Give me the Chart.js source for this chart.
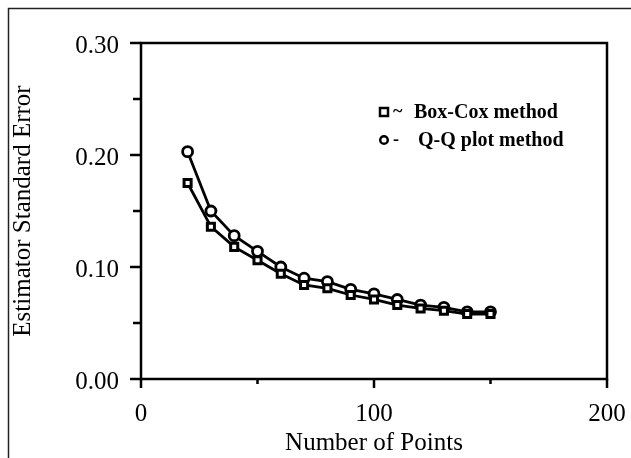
<!DOCTYPE html>
<html><head><meta charset="utf-8">
<script src="https://cdn.jsdelivr.net/npm/chart.js@4"></script>
<style>html,body{margin:0;padding:0;background:#fff;}#wrap{width:631px;height:458px;}</style>
</head><body><div id="wrap"><canvas id="c" width="631" height="458"></canvas></div>
<script>
const numberOfPoints = [20, 30, 40, 50, 60, 70, 80, 90, 100, 110, 120, 130, 140, 150];
const boxCoxError = [0.175, 0.136, 0.118, 0.106, 0.094, 0.084, 0.081, 0.075, 0.071, 0.066, 0.063, 0.061, 0.058, 0.058];
const qqPlotError = [0.203, 0.150, 0.128, 0.114, 0.100, 0.090, 0.087, 0.080, 0.076, 0.071, 0.066, 0.064, 0.060, 0.060];
const seriesNames = ['Box-Cox method', 'Q-Q plot method'];
const legendSymbols = ['~', '-'];
const xAxisTitle = 'Number of Points';
const yAxisTitle = 'Estimator Standard Error';

const SERIF = '"Liberation Serif", "Times New Roman", serif';
const INK = '#000';

const framePlugin = {
  id: 'frame',
  beforeDraw(chart) {
    const ctx = chart.ctx;
    ctx.save();
    ctx.fillStyle = '#fff';
    ctx.fillRect(0, 0, chart.width, chart.height);
    ctx.strokeStyle = '#222';
    ctx.lineWidth = 1.5;
    ctx.beginPath();
    ctx.moveTo(8.5, chart.height);
    ctx.lineTo(8.5, 8.5);
    ctx.lineTo(chart.width, 8.5);
    ctx.stroke();
    ctx.restore();
  },
  afterDatasetsDraw(chart) {
    const ctx = chart.ctx;
    const a = chart.chartArea;
    const xs = chart.scales.x, ys = chart.scales.y;
    ctx.save();
    ctx.strokeStyle = INK;
    ctx.lineWidth = 2.5;
    ctx.strokeRect(a.left, a.top, a.right - a.left, a.bottom - a.top);
    ctx.beginPath();
    xs.ticks.forEach(t => {
      const px = xs.getPixelForValue(t.value);
      const major = Math.round(t.value) % 100 === 0;
      ctx.moveTo(px, a.bottom);
      ctx.lineTo(px, a.bottom + (major ? 9 : 5));
    });
    ys.ticks.forEach(t => {
      const py = ys.getPixelForValue(t.value);
      const major = Math.round(t.value * 100) % 10 === 0;
      ctx.moveTo(a.left, py);
      ctx.lineTo(a.left - (major ? 11 : 8), py);
    });
    ctx.stroke();
    ctx.restore();
  },
  afterDraw(chart) {
    const ctx = chart.ctx;
    ctx.save();
    const rows = [{y: 112, style: 'rect'}, {y: 140, style: 'circle'}];
    rows.forEach((r, i) => {
      const mx = 384;
      ctx.lineWidth = 2.5;
      ctx.strokeStyle = INK;
      ctx.fillStyle = '#fff';
      if (r.style === 'rect') {
        ctx.fillRect(mx - 4, r.y - 4, 8, 8);
        ctx.strokeRect(mx - 4, r.y - 4, 8, 8);
      } else {
        ctx.beginPath();
        ctx.arc(mx, r.y, 3.8, 0, Math.PI * 2);
        ctx.fill();
        ctx.stroke();
      }
      ctx.fillStyle = INK;
      ctx.font = 'bold 18px ' + SERIF;
      ctx.textBaseline = 'middle';
      ctx.textAlign = 'left';
      ctx.fillText(legendSymbols[i], 393, r.y);
      ctx.font = 'bold 20px ' + SERIF;
      ctx.fillText(seriesNames[i], i === 0 ? 414 : 418, r.y + 1);
    });
    ctx.restore();
  }
};

const chart = new Chart(document.getElementById('c'), {
  type: 'line',
  data: {
    datasets: [
      {
        label: seriesNames[0],
        data: numberOfPoints.map((x, i) => ({x: x, y: boxCoxError[i]})),
        borderColor: INK, borderWidth: 2.8,
        pointStyle: 'rect', pointRadius: 5, pointBorderWidth: 3,
        pointBackgroundColor: '#fff', pointBorderColor: INK, fill: false, tension: 0
      },
      {
        label: seriesNames[1],
        data: numberOfPoints.map((x, i) => ({x: x, y: qqPlotError[i]})),
        borderColor: INK, borderWidth: 2.8,
        pointStyle: 'circle', pointRadius: 5, pointBorderWidth: 2.8,
        pointBackgroundColor: '#fff', pointBorderColor: INK, fill: false, tension: 0
      }
    ]
  },
  options: {
    responsive: false, animation: false, devicePixelRatio: 1,
    layout: {padding: {left: 8, top: 43, right: 24, bottom: 0}},
    plugins: {legend: {display: false}, tooltip: {enabled: false}},
    scales: {
      x: {
        type: 'linear', min: 0, max: 200,
        grid: {display: false, drawTicks: false}, border: {display: false},
        ticks: {
          stepSize: 50, maxRotation: 0, autoSkip: false, padding: 20,
          color: INK, font: {family: SERIF, size: 25},
          callback: v => (Math.round(v) % 100 === 0 ? String(v) : '')
        },
        title: {display: true, text: xAxisTitle, color: INK, font: {family: SERIF, size: 25}, padding: {top: 0, bottom: 0}},
        afterFit: s => { s.height = 79; s.paddingRight = 0; s.paddingLeft = 0; }
      },
      y: {
        min: 0, max: 0.3,
        grid: {display: false, drawTicks: false}, border: {display: false},
        ticks: {
          stepSize: 0.05, autoSkip: false, padding: 22, labelOffset: 3,
          color: INK, font: {family: SERIF, size: 25},
          callback: v => (Math.round(v * 100) % 10 === 0 ? v.toFixed(2) : '')
        },
        title: {display: true, text: yAxisTitle, color: INK, font: {family: SERIF, size: 25}, padding: {top: 0, bottom: 0}},
        afterFit: s => { s.width = 133; }
      }
    }
  },
  plugins: [framePlugin]
});
</script></body></html>
